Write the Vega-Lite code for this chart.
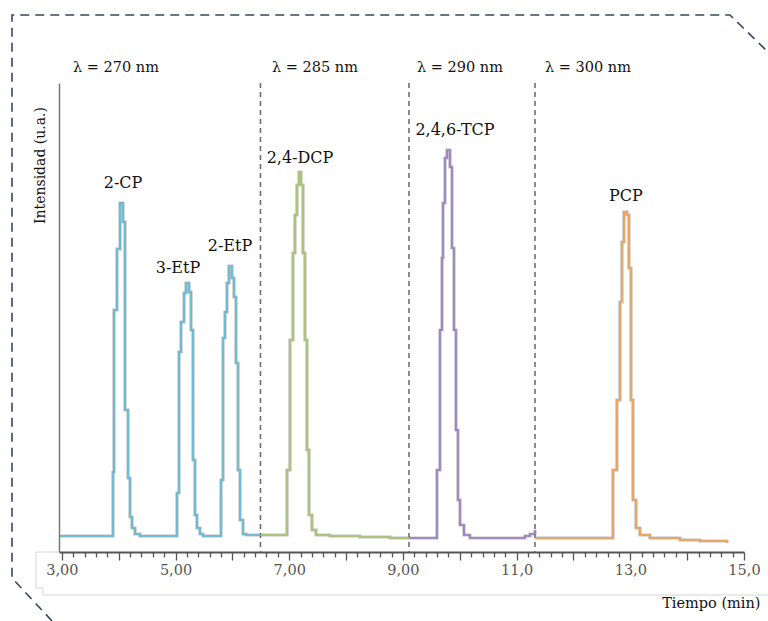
{
  "$schema": "https://vega.github.io/schema/vega-lite/v6.json",
  "width": 685,
  "height": 469,
  "autosize": "none",
  "padding": {"left": 59, "top": 83, "right": 24, "bottom": 69},
  "background": "white",
  "config": {"view": {"stroke": null}},
  "resolve": {"axis": {"x": "independent"}},
  "datasets": {
    "trace": [
      {"s": "a", "t": 2.968, "v": 3.41}, {"s": "a", "t": 3.900, "v": 17.06}, {"s": "a", "t": 3.917, "v": 51.6},
      {"s": "a", "t": 3.970, "v": 64.61}, {"s": "a", "t": 4.023, "v": 74.41}, {"s": "a", "t": 4.076, "v": 70.36},
      {"s": "a", "t": 4.111, "v": 30.28}, {"s": "a", "t": 4.164, "v": 15.78}, {"s": "a", "t": 4.199, "v": 7.46},
      {"s": "a", "t": 4.234, "v": 5.12}, {"s": "a", "t": 4.287, "v": 3.84}, {"s": "a", "t": 4.375, "v": 3.41},
      {"s": "a", "t": 5.026, "v": 12.58}, {"s": "a", "t": 5.061, "v": 42.64}, {"s": "a", "t": 5.096, "v": 49.04},
      {"s": "a", "t": 5.149, "v": 55.22}, {"s": "a", "t": 5.184, "v": 57.36}, {"s": "a", "t": 5.237, "v": 55.44},
      {"s": "a", "t": 5.272, "v": 47.33}, {"s": "a", "t": 5.307, "v": 19.62}, {"s": "a", "t": 5.342, "v": 7.89},
      {"s": "a", "t": 5.377, "v": 5.12}, {"s": "a", "t": 5.430, "v": 3.84}, {"s": "a", "t": 5.483, "v": 3.41},
      {"s": "a", "t": 5.800, "v": 15.35}, {"s": "a", "t": 5.835, "v": 45.63}, {"s": "a", "t": 5.870, "v": 51.17},
      {"s": "a", "t": 5.905, "v": 57.36}, {"s": "a", "t": 5.940, "v": 60.98}, {"s": "a", "t": 5.993, "v": 58.42},
      {"s": "a", "t": 6.028, "v": 54.37}, {"s": "a", "t": 6.063, "v": 40.3}, {"s": "a", "t": 6.099, "v": 17.48},
      {"s": "a", "t": 6.134, "v": 6.82}, {"s": "a", "t": 6.187, "v": 3.84}, {"s": "a", "t": 6.239, "v": 3.62},
      {"s": "a", "t": 6.494, "v": 3.62},
      {"s": "b", "t": 6.494, "v": 3.62}, {"s": "b", "t": 6.961, "v": 17.48}, {"s": "b", "t": 7.013, "v": 45.2},
      {"s": "b", "t": 7.066, "v": 63.75}, {"s": "b", "t": 7.101, "v": 71.86}, {"s": "b", "t": 7.136, "v": 78.25},
      {"s": "b", "t": 7.172, "v": 81.02}, {"s": "b", "t": 7.207, "v": 78.25}, {"s": "b", "t": 7.242, "v": 63.75},
      {"s": "b", "t": 7.277, "v": 45.2}, {"s": "b", "t": 7.312, "v": 21.75}, {"s": "b", "t": 7.348, "v": 7.89},
      {"s": "b", "t": 7.400, "v": 4.69}, {"s": "b", "t": 7.471, "v": 3.62}, {"s": "b", "t": 7.717, "v": 3.41},
      {"s": "b", "t": 8.245, "v": 3.2}, {"s": "b", "t": 8.772, "v": 2.99}, {"s": "b", "t": 9.107, "v": 2.77},
      {"s": "c", "t": 9.107, "v": 2.99}, {"s": "c", "t": 9.599, "v": 17.48}, {"s": "c", "t": 9.652, "v": 47.33},
      {"s": "c", "t": 9.687, "v": 62.69}, {"s": "c", "t": 9.705, "v": 74.41}, {"s": "c", "t": 9.740, "v": 84.01},
      {"s": "c", "t": 9.775, "v": 85.71}, {"s": "c", "t": 9.828, "v": 82.09}, {"s": "c", "t": 9.863, "v": 64.82},
      {"s": "c", "t": 9.898, "v": 47.33}, {"s": "c", "t": 9.933, "v": 26.01}, {"s": "c", "t": 9.968, "v": 11.09},
      {"s": "c", "t": 10.004, "v": 5.76}, {"s": "c", "t": 10.074, "v": 3.62}, {"s": "c", "t": 10.179, "v": 2.99},
      {"s": "c", "t": 10.971, "v": 2.99}, {"s": "c", "t": 11.147, "v": 3.41}, {"s": "c", "t": 11.235, "v": 3.84},
      {"s": "c", "t": 11.323, "v": 4.69},
      {"s": "d", "t": 11.323, "v": 2.99}, {"s": "d", "t": 12.695, "v": 17.48}, {"s": "d", "t": 12.765, "v": 32.41},
      {"s": "d", "t": 12.818, "v": 53.3}, {"s": "d", "t": 12.853, "v": 66.1}, {"s": "d", "t": 12.888, "v": 72.49},
      {"s": "d", "t": 12.941, "v": 71.86}, {"s": "d", "t": 12.976, "v": 60.55}, {"s": "d", "t": 13.012, "v": 32.41},
      {"s": "d", "t": 13.047, "v": 11.09}, {"s": "d", "t": 13.100, "v": 5.12}, {"s": "d", "t": 13.170, "v": 3.62},
      {"s": "d", "t": 13.346, "v": 2.99}, {"s": "d", "t": 13.874, "v": 2.56}, {"s": "d", "t": 14.225, "v": 2.35},
      {"s": "d", "t": 14.700, "v": 1.92}
    ],
    "frame": [
      {"i": 0, "t": 2.827, "v": -14.71}, {"i": 1, "t": 2.123, "v": -5.54}, {"i": 2, "t": 2.123, "v": 114.5},
      {"i": 3, "t": 14.753, "v": 114.5}, {"i": 4, "t": 15.421, "v": 106.61}
    ],
    "box": [
      {"i": 0, "t": 2.95, "v": 0}, {"i": 1, "t": 2.545, "v": 0}, {"i": 2, "t": 2.545, "v": -7.68},
      {"i": 3, "t": 2.669, "v": -7.68}, {"i": 4, "t": 2.669, "v": -9.17}, {"i": 5, "t": 15.421, "v": -9.17}
    ],
    "sep": [{"t": 6.494}, {"t": 9.107}, {"t": 11.323}],
    "lambda": [
      {"t": 3.196, "v": 103.2, "label": "λ = 270 nm"},
      {"t": 6.697, "v": 103.2, "label": "λ = 285 nm"},
      {"t": 9.247, "v": 103.2, "label": "λ = 290 nm"},
      {"t": 11.499, "v": 103.2, "label": "λ = 300 nm"}
    ],
    "peaks": [
      {"t": 4.076, "v": 78.7, "label": "2-CP"},
      {"t": 5.043, "v": 60.6, "label": "3-EtP"},
      {"t": 5.958, "v": 65.2, "label": "2-EtP"},
      {"t": 7.189, "v": 84.0, "label": "2,4-DCP"},
      {"t": 9.916, "v": 90.0, "label": "2,4,6-TCP"},
      {"t": 12.924, "v": 75.9, "label": "PCP"}
    ]
  },
  "layer": [
    {
      "data": {"name": "trace"},
      "mark": {"type": "line", "interpolate": "step-after", "color": "#bdbdbd", "strokeWidth": 3.2},
      "encoding": {
        "x": {
          "field": "t", "type": "quantitative",
          "scale": {"domain": [2.95, 15.0], "nice": false, "zero": false},
          "axis": {
            "orient": "bottom",
            "title": "Tiempo (min)",
            "titleFont": "DejaVu Serif", "titleFontSize": 14.5, "titleFontWeight": "normal", "titleColor": "#111111",
            "titleAnchor": "end", "titleAlign": "right", "titleBaseline": "middle", "titleX": 701, "titleY": 51,
            "values": [3, 4, 5, 6, 7, 8, 9, 10, 11, 12, 13, 14, 15],
            "labelExpr": "datum.value % 2 == 1 ? replace(datum.value < 10 ? format(datum.value, '.2f') : format(datum.value, '.1f'), '.', ',') : ''",
            "labelFont": "DejaVu Serif", "labelFontSize": 14.5, "labelColor": "#555555", "labelPadding": 3,
            "labelOverlap": false, "labelFlush": false,
            "domainColor": "#555555", "domainWidth": 2,
            "tickColor": "#555555", "tickWidth": 1.3, "tickSize": 8,
            "grid": false
          }
        },
        "y": {
          "field": "v", "type": "quantitative",
          "scale": {"domain": [0, 100], "nice": false, "zero": false},
          "axis": {
            "title": "Intensidad (u.a.)",
            "titleFont": "DejaVu Serif", "titleFontSize": 14, "titleFontWeight": "normal", "titleColor": "#111111",
            "titleAngle": -90, "titleAlign": "center", "titleBaseline": "middle", "titleX": -19, "titleY": 82,
            "labels": false, "ticks": false, "grid": false,
            "domainColor": "#777777", "domainWidth": 1.5
          }
        },
        "detail": {"field": "s"}
      }
    },
    {
      "data": {"name": "frame"},
      "mark": {"type": "line", "clip": false, "color": "#34495e", "strokeWidth": 1.6, "strokeDash": [9, 6]},
      "encoding": {
        "x": {"field": "t", "type": "quantitative", "axis": null},
        "y": {"field": "v", "type": "quantitative"},
        "order": {"field": "i"}
      }
    },
    {
      "data": {"name": "box"},
      "mark": {"type": "line", "clip": false, "color": "#d4d4d4", "strokeWidth": 1},
      "encoding": {
        "x": {"field": "t", "type": "quantitative", "axis": null},
        "y": {"field": "v", "type": "quantitative"},
        "order": {"field": "i"}
      }
    },
    {
      "data": {"name": "sep"},
      "mark": {"type": "rule", "color": "#666666", "strokeWidth": 1.5, "strokeDash": [5, 4]},
      "encoding": {
        "x": {
          "field": "t", "type": "quantitative",
          "axis": {
            "orient": "bottom", "title": null,
            "values": [3.2, 3.4, 3.6, 3.8, 4.2, 4.4, 4.6, 4.8, 5.2, 5.4, 5.6, 5.8, 6.2, 6.4, 6.6, 6.8, 7.2, 7.4, 7.6, 7.8, 8.2, 8.4, 8.6, 8.8, 9.2, 9.4, 9.6, 9.8, 10.2, 10.4, 10.6, 10.8, 11.2, 11.4, 11.6, 11.8, 12.2, 12.4, 12.6, 12.8, 13.2, 13.4, 13.6, 13.8, 14.2, 14.4, 14.6, 14.8],
            "labels": false, "domain": false, "grid": false,
            "tickColor": "#555555", "tickWidth": 1.3, "tickSize": 5
          }
        }
      }
    },
    {
      "data": {"name": "trace"},
      "mark": {"type": "line", "interpolate": "step-after", "strokeWidth": 1.6},
      "encoding": {
        "x": {"field": "t", "type": "quantitative", "axis": null},
        "y": {"field": "v", "type": "quantitative"},
        "color": {
          "field": "s", "type": "nominal", "legend": null,
          "scale": {"domain": ["a", "b", "c", "d"], "range": ["#5bbcd8", "#a9c56a", "#9a7cc6", "#f5a14e"]}
        }
      }
    },
    {
      "data": {"name": "lambda"},
      "mark": {"type": "text", "align": "left", "baseline": "middle", "font": "DejaVu Serif", "fontSize": 14.5, "color": "#111111", "clip": false},
      "encoding": {
        "x": {"field": "t", "type": "quantitative", "axis": null},
        "y": {"field": "v", "type": "quantitative"},
        "text": {"field": "label"}
      }
    },
    {
      "data": {"name": "peaks"},
      "mark": {"type": "text", "align": "center", "baseline": "middle", "font": "DejaVu Serif", "fontSize": 16, "color": "#111111"},
      "encoding": {
        "x": {"field": "t", "type": "quantitative", "axis": null},
        "y": {"field": "v", "type": "quantitative"},
        "text": {"field": "label"}
      }
    }
  ]
}
